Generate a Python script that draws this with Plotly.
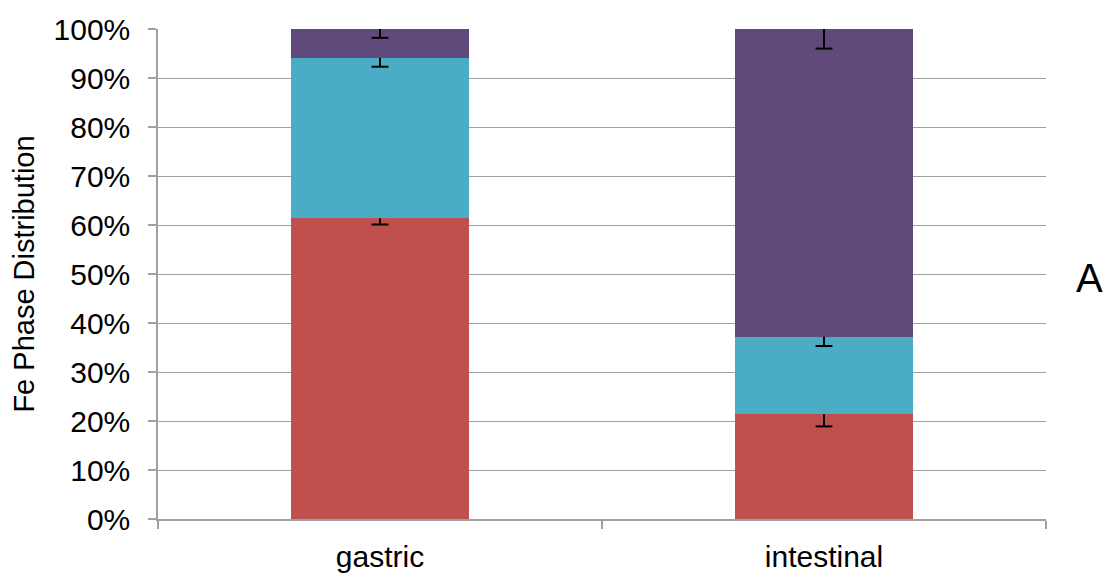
import plotly.graph_objects as go

categories = ["gastric", "intestinal"]
red_vals = [61.4, 21.4]
teal_vals = [32.7, 15.8]
purple_vals = [5.9, 62.8]
red_err = [1.3, 2.5]
teal_err = [1.8, 1.9]
purple_err = [1.8, 4.0]
y_ticks = [0, 10, 20, 30, 40, 50, 60, 70, 80, 90, 100]

colors = ["#C0504D", "#4BACC6", "#604A7B"]
series = [red_vals, teal_vals, purple_vals]
errs = [red_err, teal_err, purple_err]

fig = go.Figure()
for vals, col in zip(series, colors):
    fig.add_trace(go.Bar(x=categories, y=vals, marker_color=col,
                         marker_line_width=0, width=0.4, showlegend=False,
                         hoverinfo="skip"))

# error bars (minus only) at top of each stacked segment
ex, ey, cx, cy = [], [], [], []
for i, cat in enumerate(categories):
    cum = 0
    for vals, err in zip(series, errs):
        cum += vals[i]
        ex += [cat, cat, None]
        ey += [cum, cum - err[i], None]
        cx.append(cat)
        cy.append(cum - err[i])
fig.add_trace(go.Scatter(x=ex, y=ey, mode="lines",
                         line=dict(color="black", width=2),
                         showlegend=False, hoverinfo="skip"))
fig.add_trace(go.Scatter(x=cx, y=cy, mode="markers",
                         marker=dict(symbol="line-ew", size=12,
                                     line=dict(color="black", width=2)),
                         showlegend=False, hoverinfo="skip"))

font = "Liberation Sans, Arial, sans-serif"
fig.update_layout(
    width=1105, height=575,
    margin=dict(l=158, r=59, t=29, b=56),
    barmode="stack",
    plot_bgcolor="white", paper_bgcolor="white",
    font=dict(family=font, color="black", size=30),
    xaxis=dict(type="category", showgrid=False, showline=True,
               linecolor="#A0A0A0", linewidth=1.5,
               ticks="outside", tickson="boundaries", ticklen=8,
               tickcolor="#A0A0A0", tickwidth=1.5,
               tickfont=dict(size=30, family=font),
               ticklabelstandoff=10, automargin=False),
    yaxis=dict(range=[0, 100], tickvals=y_ticks,
               ticktext=[f"{v}%" for v in y_ticks],
               showgrid=True, gridcolor="#A0A0A0", gridwidth=1.25,
               showline=True, linecolor="#A0A0A0", linewidth=1.5,
               ticks="outside", ticklen=8, tickcolor="#A0A0A0", tickwidth=1.5,
               tickfont=dict(size=30, family=font),
               ticklabelstandoff=12, zeroline=False, automargin=False,
               title=dict(text="Fe Phase Distribution",
                          font=dict(size=29, family=font), standoff=10)),
    annotations=[dict(text="A", x=1.0495, y=0.492, xref="paper", yref="paper",
                      xanchor="center", yanchor="middle", showarrow=False,
                      font=dict(size=40, family=font, color="black"))],
)

fig.write_html(
    "out.html",
    config={"displayModeBar": False},
    post_script="document.body.style.margin='0';"
                "document.body.style.overflow='hidden';",
)
